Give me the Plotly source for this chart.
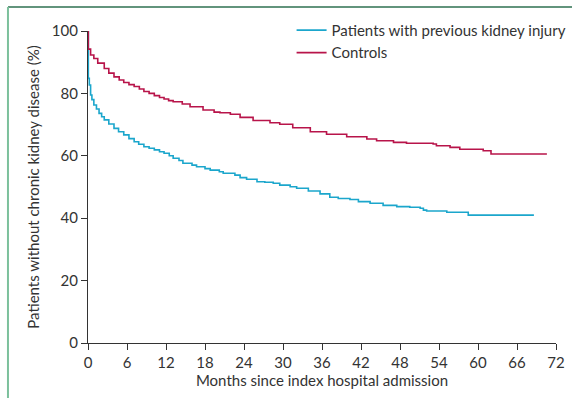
import plotly.graph_objects as go

# Patients with previous kidney injury (months, % without CKD)
aki_months = [0, 0.05, 0.2, 0.4, 0.6, 0.9, 1.3, 1.7, 2.1, 2.5, 3.2, 4, 4.7, 5.5, 6.3, 7.1,
              7.8, 8.6, 9.4, 10.2, 11, 11.7, 12.5, 13.1, 14, 14.6, 16, 16.7, 18, 18.8, 20.2,
              20.8, 22.6, 23.4, 24.4, 26, 27.2, 28.5, 29.5, 31.1, 32.1, 33.9, 35.7, 37.2,
              38.5, 40.3, 41.6, 43.4, 45.4, 47.5, 49.5, 51.1, 51.6, 52.1, 55.2, 58.5, 68.6]
aki_values = [100, 84.8, 82.7, 79.5, 78, 76.3, 75, 73.6, 72.5, 71.5, 70.2, 68.8, 67.7, 66.7,
              65.5, 64.5, 63.7, 62.9, 62.4, 61.9, 61.3, 60.8, 60, 59.2, 58.5, 57.6, 57,
              56.5, 55.9, 55.4, 54.9, 54.4, 53.8, 53, 52.5, 51.7, 51.5, 51.2, 50.6, 50.1,
              49.6, 48.7, 47.8, 46.7, 46.3, 46, 45.3, 44.8, 44.1, 43.7, 43.5, 43.2, 42.6,
              42.3, 41.9, 41.0, 41.0]

# Controls
ctl_months = [0, 0.05, 0.4, 0.9, 1.5, 2.5, 3.2, 4, 4.8, 5.5, 6.3, 7.1, 7.9, 8.6, 9.4, 10.2,
              11, 11.7, 12.4, 13.1, 14.5, 15.7, 17.7, 19.4, 20.3, 21.9, 23.4, 25.4, 28,
              29.5, 31.5, 34.2, 36.7, 39.8, 42.9, 44.4, 47, 49, 53.1, 53.6, 55.7, 57.2,
              60.8, 62, 70.6]
ctl_values = [100, 94.2, 92.3, 91.2, 89.7, 88, 86.5, 85.3, 84.3, 83.5, 82.8, 82.2, 81.4,
              80.6, 80, 79.3, 78.7, 78.2, 77.7, 77.3, 76.6, 75.7, 74.7, 74, 73.8, 73.3,
              72.3, 71.3, 70.6, 70.1, 69, 67.7, 66.9, 66.1, 65.4, 64.8, 64.3, 64, 63.8,
              63.2, 62.7, 62.1, 61.6, 60.6, 60.6]

x_ticks = [0, 6, 12, 18, 24, 30, 36, 42, 48, 54, 60, 66, 72]
y_ticks = [0, 20, 40, 60, 80, 100]

FONT = "Lato, 'Open Sans', sans-serif"
TXT = "#333333"

fig = go.Figure()
fig.add_trace(go.Scatter(x=aki_months, y=aki_values, mode="lines", line_shape="hv",
                         name="Patients with previous kidney injury",
                         line=dict(color="#1ba6cc", width=1.6)))
fig.add_trace(go.Scatter(x=ctl_months, y=ctl_values, mode="lines", line_shape="hv",
                         name="Controls",
                         line=dict(color="#b8144a", width=1.6)))

fig.update_layout(
    width=572, height=398,
    margin=dict(l=88, r=16, t=31, b=55, autoexpand=False),
    paper_bgcolor="white", plot_bgcolor="white",
    font=dict(family=FONT, size=15, color=TXT),
    showlegend=True,
    legend=dict(x=0.435, y=1.055, xanchor="left", yanchor="top",
                bgcolor="rgba(0,0,0,0)", font=dict(size=15, color=TXT),
                itemwidth=30, tracegroupgap=0),
    xaxis=dict(range=[0, 72], tickvals=x_ticks, ticks="outside", ticklen=6,
               tickcolor="#333", showline=True, linecolor="#333", linewidth=1.3,
               showgrid=False, zeroline=False, tickfont=dict(size=15),
               title=dict(text="Months since index hospital admission",
                          font=dict(size=15), standoff=4)),
    yaxis=dict(range=[0, 100], tickvals=y_ticks, ticks="outside", ticklen=6,
               tickcolor="#333", showline=True, linecolor="#333", linewidth=1.3,
               showgrid=False, zeroline=False, tickfont=dict(size=15),
               title=dict(text="Patients without chronic kidney disease (%)",
                          font=dict(size=15), standoff=8)),
    shapes=[
        dict(type="line", xref="paper", yref="paper", x0=-0.171, x1=1.05,
             y0=1.077, y1=1.077, line=dict(color="#2e7050", width=1.5)),
        dict(type="line", xref="paper", yref="paper", x0=-0.171, x1=-0.171,
             y0=1.077, y1=-0.2, line=dict(color="#7cc09c", width=2)),
    ],
)

fig.write_html("out.html", config={"displayModeBar": False},
               post_script="document.body.style.margin='0';document.body.style.overflow='hidden';")
